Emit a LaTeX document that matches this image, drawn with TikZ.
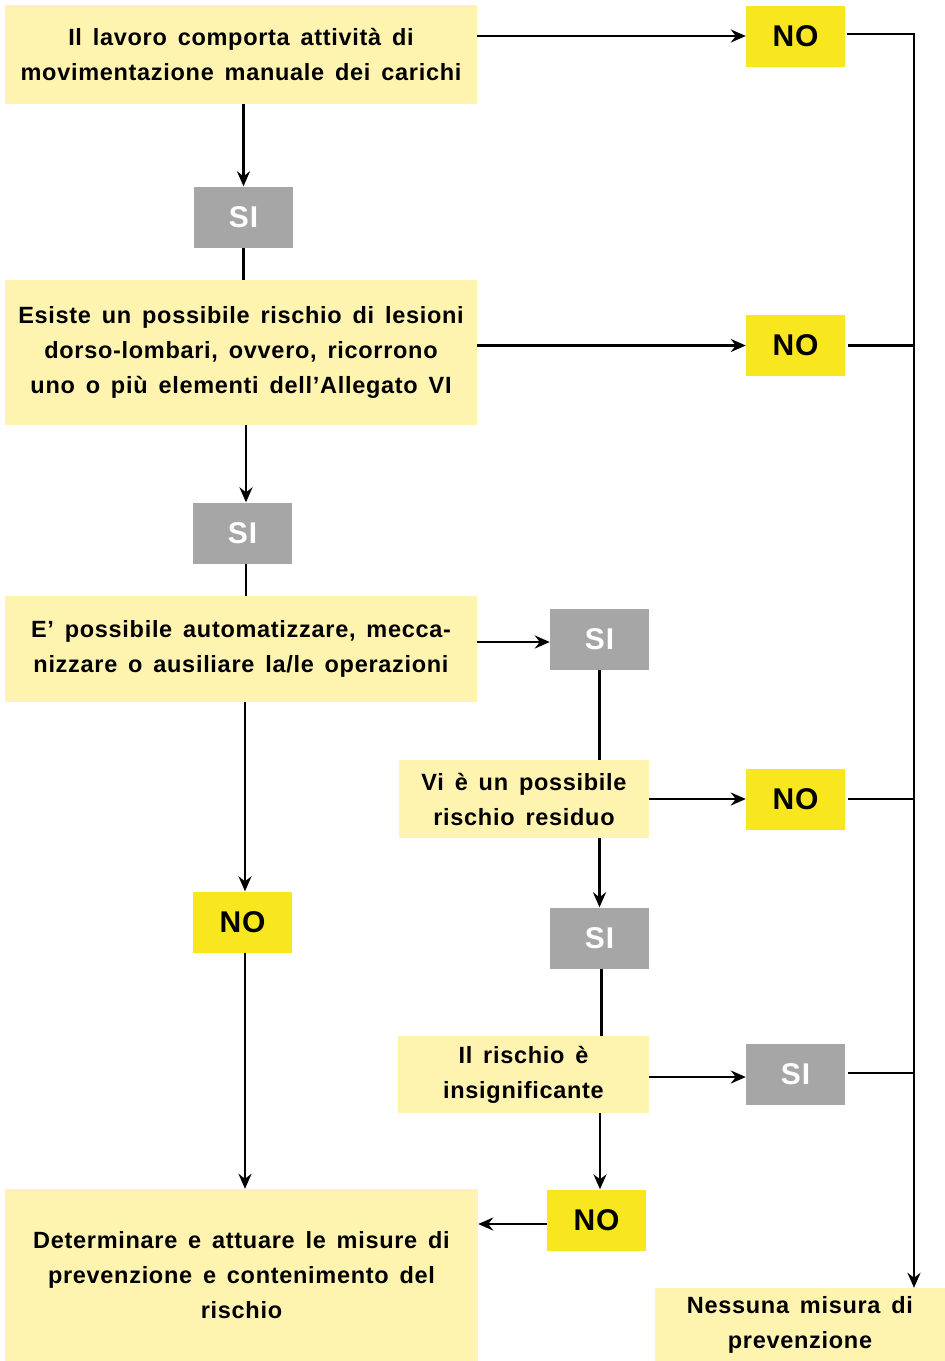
\documentclass[tikz,border=0pt]{standalone}
\usepackage{fontspec}
\setmainfont[WordSpace=1.5,LetterSpace=3]{Liberation Sans}
\usetikzlibrary{arrows.meta}

\definecolor{boxyellow}{RGB}{255,243,176}
\definecolor{noyellow}{RGB}{248,230,30}
\definecolor{sigray}{RGB}{166,166,166}

\tikzset{
  qbox/.style={fill=boxyellow, inner sep=0pt, align=center,
    font=\fontsize{23.5}{35}\selectfont\bfseries},
  nobox/.style={fill=noyellow, inner sep=0pt, minimum width=99, minimum height=61,
    font=\fontsize{30}{30}\selectfont\bfseries},
  sibox/.style={fill=sigray, text=white, inner sep=0pt, minimum width=99, minimum height=61,
    font=\fontsize{30}{30}\selectfont\bfseries},
  conn/.style={line width=2.8pt},
  arr/.style={conn, -{Stealth[length=15pt,width=13pt,inset=5pt]}}
}

\begin{document}
\begin{tikzpicture}[x=1pt,y=-1pt]
\useasboundingbox[fill=white] (0,0) rectangle (945,1361);
% Drawing boxes
% Column 1: questions and answers
\node[qbox, minimum width=472, minimum height=99] (lavoro) at (241,54.5)
  {Il lavoro comporta attività di\\movimentazione manuale dei carichi};
\node[sibox] (si1) at (243.5,217) {SI};
\node[qbox, minimum width=472, minimum height=145] (lesioni) at (241,352.5)
  {Esiste un possibile rischio di lesioni\\dorso-lombari, ovvero, ricorrono\\uno o più elementi dell’Allegato VI};
\node[sibox] (si2) at (242.5,533) {SI};
\node[qbox, minimum width=472, minimum height=106] (automaz) at (241,649)
  {E’ possibile automatizzare, mecca-\\nizzare o ausiliare la/le operazioni};
\node[nobox] (no5) at (242.5,922) {NO};
\node[qbox, minimum width=473, minimum height=172] (misure) at (241.5,1275)
  {Determinare e attuare le misure di\\prevenzione e contenimento del\\rischio};
% Column 2: residual risk
\node[sibox] (si3) at (599.5,639) {SI};
\node[qbox, minimum width=250, minimum height=78] (residuo) at (524,799)
  {Vi è un possibile\\rischio residuo};
\node[sibox] (si4) at (599.5,938) {SI};
\node[qbox, minimum width=251, minimum height=77] (insign) at (523.5,1074.5)
  {Il rischio è\\insignificante};
\node[nobox] (no4) at (596.5,1220) {NO};
% Column 3: no measures
\node[nobox] (no1) at (795.5,36) {NO};
\node[nobox] (no2) at (795.5,345.5) {NO};
\node[nobox] (no3) at (795.5,799) {NO};
\node[sibox] (si5) at (795.5,1074) {SI};
\node[qbox, minimum width=290, minimum height=73] (nessuna) at (800,1324.5)
  {Nessuna misura di\\prevenzione};
\coordinate (rail) at (914,0);
% Done with boxes; drawing connectors
\draw[arr] (lavoro.east |- no1.west) -- (no1.west);
\draw[arr] (si1.north |- lavoro.south) -- (si1.north);
\draw[conn] (si1.south) -- (si1.south |- lesioni.north);
\draw[arr] (lesioni.east |- no2.west) -- (no2.west);
\draw[arr] ([xshift=3.5pt]si2.north |- lesioni.south) -- ([xshift=3.5pt]si2.north);
\draw[conn] ([xshift=3.5pt]si2.south) -- ([xshift=3.5pt]si2.south |- automaz.north);
\draw[arr] (automaz.east |- 0,642) -- (si3.west |- 0,642);
\draw[arr] ([xshift=2.5pt]no5.north |- automaz.south) -- ([xshift=2.5pt]no5.north);
\draw[arr] ([xshift=2.5pt]no5.south) -- ([xshift=2.5pt]no5.south |- misure.north);
\draw[conn] (si3.south) -- (si3.south |- residuo.north);
\draw[arr] (residuo.east) -- (no3.west);
\draw[arr] (si4.north |- residuo.south) -- (si4.north);
\draw[conn] ([xshift=2pt]si4.south) -- ([xshift=2pt]si4.south |- insign.north);
\draw[arr] (insign.east |- 0,1077) -- (si5.west |- 0,1077);
\draw[arr] ([xshift=3.5pt]no4.north |- insign.south) -- ([xshift=3.5pt]no4.north);
\draw[arr] (no4.west |- 0,1224) -- (misure.east |- 0,1224);
% Right rail to the last box
\draw[arr] ([xshift=2pt]no1.east |- 0,34) -| (rail |- nessuna.north);
\draw[conn] ([xshift=3pt]no2.east) -- (no2.east -| rail);
\draw[conn] ([xshift=3pt]no3.east) -- (no3.east -| rail);
\draw[conn] ([xshift=3pt]si5.east |- 0,1073) -- (rail |- 0,1073);
\end{tikzpicture}
\end{document}
